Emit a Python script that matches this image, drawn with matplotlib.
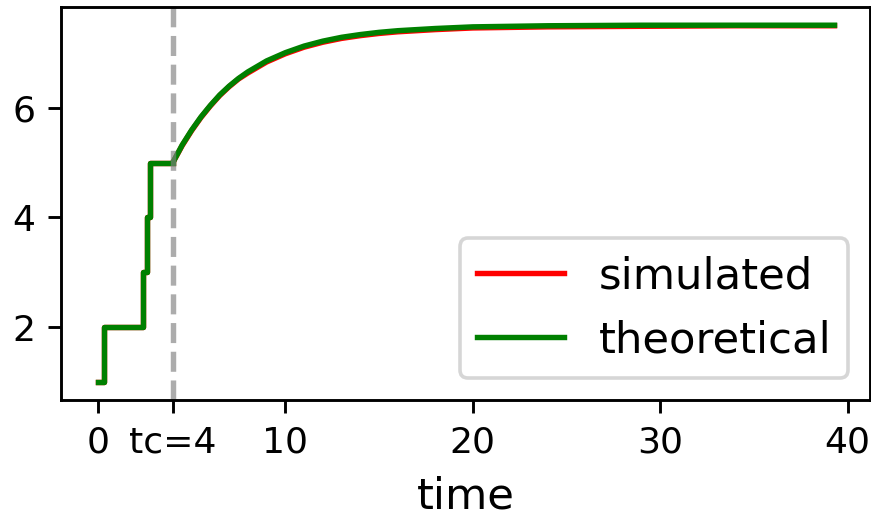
import matplotlib
matplotlib.use("Agg")
import matplotlib.pyplot as plt

# step part before tc (shared by both curves)
step_t = [0, 0.33, 2.4, 2.6, 2.77, 4]
step_y = [1, 2, 3, 4, 5, 5]

# relaxation part after tc
t_after = [4, 4.5, 5, 5.5, 6, 6.5, 7, 7.5, 8, 9, 10, 11, 12, 13, 14, 15, 16,
           18, 20, 24, 29, 34, 39.3]
theo_after = [5.0, 5.32, 5.59, 5.83, 6.04, 6.23, 6.39, 6.53, 6.65, 6.85, 7.0,
              7.12, 7.21, 7.28, 7.33, 7.37, 7.40, 7.44, 7.47, 7.49, 7.50, 7.50, 7.50]
sim_after = [5.0, 5.31, 5.58, 5.82, 6.03, 6.22, 6.38, 6.52, 6.63, 6.83, 6.98,
             7.10, 7.19, 7.26, 7.31, 7.35, 7.38, 7.42, 7.45, 7.47, 7.48, 7.49, 7.49]

tc = 4
xticks = [0, 4, 10, 20, 30, 40]
xticklabels = ["0", "tc=4", "10", "20", "30", "40"]

fig = plt.figure(figsize=(3.35, 1.99), dpi=260)
ax = fig.add_axes([0.070, 0.226, 0.929, 0.759])

ax.plot(step_t, step_y, color="red", lw=1.5, drawstyle="steps-post")
ax.plot(t_after, sim_after, color="red", lw=1.5, label="simulated")
ax.plot(step_t, step_y, color="green", lw=1.5, drawstyle="steps-post")
ax.plot(t_after, theo_after, color="green", lw=1.5, label="theoretical")
ax.axvline(tc, color="gray", ls="--", lw=1.5, alpha=0.65)

ax.set_xticks(xticks)
ax.set_xticklabels(xticklabels)
ax.set_yticks([2, 4, 6])
ax.set_xlim(-1.97, 41.2)
ax.set_ylim(0.675, 7.825)
ax.set_xlabel("time", fontsize=12, labelpad=4.5)
ax.legend(loc="lower right", fontsize=12)

fig.savefig("out.png")
